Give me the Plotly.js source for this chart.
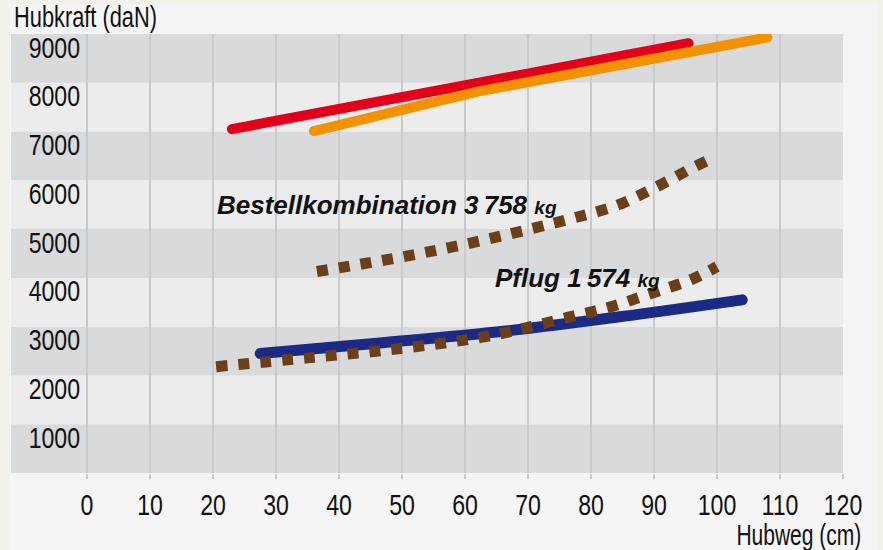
<!DOCTYPE html>
<html>
<head>
<meta charset="utf-8">
<script src="https://cdn.plot.ly/plotly-3.0.1.min.js"></script>
<style>
html,body{margin:0;padding:0;background:#f2f2ea;}
#chart{width:883px;height:550px;}
.scatterlayer .trace:nth-child(-n+3) path.js-line{stroke-linecap:round;}
</style>
</head>
<body>
<div id="chart"></div>
<script>
// Data (Hubweg in cm, Hubkraft in daN)
const redX = [23, 62.4, 95.5];
const redY = [7050, 8010, 8810];

const orangeX = [36, 62, 108];
const orangeY = [7010, 7820, 8930];

const blueX = [27.5, 46, 65, 85, 104];
const blueY = [2450, 2660, 2890, 3210, 3550];

const bestellX = [36.5, 50, 60, 70, 77, 80.5, 84, 87, 90, 93, 96, 99.6];
const bestellY = [4130, 4430, 4690, 4990, 5220, 5340, 5480, 5650, 5840, 6040, 6250, 6470];

const pflugX = [20.5, 35, 49, 63, 69.5, 76, 83, 89.5, 96, 100];
const pflugY = [2180, 2360, 2540, 2790, 2970, 3180, 3400, 3680, 3970, 4230];

const xTicks = [0, 10, 20, 30, 40, 50, 60, 70, 80, 90, 100, 110, 120];
const yTicks = [1000, 2000, 3000, 4000, 5000, 6000, 7000, 8000, 9000];
const bandEdges = [0, 1000, 2000, 3000, 4000, 5000, 6000, 7000, 8000, 9000];

const labelBestell = 'Bestellkombination 3\u2009758';
const labelPflug = 'Pflug 1\u2009574';
const unitKg = 'kg';
const xTitle = 'Hubweg (cm)';
const yTitle = 'Hubkraft (daN)';

const FONT = 'Liberation Sans Narrow, Arial Narrow, Liberation Sans, sans-serif';
const dotDash = '11px,11px';

const traces = [
  {x: redX, y: redY, mode: 'lines', line: {color: '#e2001a', width: 10}},
  {x: orangeX, y: orangeY, mode: 'lines', line: {color: '#f39200', width: 10}},
  {x: blueX, y: blueY, mode: 'lines', line: {color: '#1b2a84', width: 11, shape: 'spline'}},
  {x: bestellX, y: bestellY, mode: 'lines', line: {color: '#6b3f19', width: 11, dash: dotDash, shape: 'spline'}},
  {x: pflugX, y: pflugY, mode: 'lines', line: {color: '#6b3f19', width: 11, dash: dotDash, shape: 'spline'}}
];

const shapes = [
  {type: 'rect', xref: 'paper', yref: 'paper', x0: -0.0012, x1: 1.0409, y0: -0.2, y1: 1.0683,
   fillcolor: '#f5f5f5', line: {width: 0}, layer: 'below'}
];
for (let i = 0; i < bandEdges.length - 1; i++) {
  shapes.push({type: 'rect', xref: 'x', yref: 'y', x0: -12.06, x1: 120,
    y0: bandEdges[i], y1: bandEdges[i + 1],
    fillcolor: (i % 2 === 0) ? '#d9dadc' : '#ebeceb', line: {width: 0}, layer: 'below'});
}

const layout = {
  width: 883, height: 550,
  margin: {l: 11, r: 40, t: 34, b: 77},
  paper_bgcolor: '#f2f2ea',
  plot_bgcolor: 'rgba(0,0,0,0)',
  showlegend: false,
  font: {family: FONT, color: '#111111', size: 30},
  xaxis: {
    range: [-12.06, 120], tickvals: xTicks, ticktext: xTicks.map(String),
    showgrid: true, gridcolor: '#c9cacc', gridwidth: 2,
    zeroline: false, showline: false,
    ticks: 'outside', ticklen: 5, tickwidth: 2, tickcolor: '#c9cacc',
    tickfont: {family: FONT, size: 30, color: '#111111'}
  },
  yaxis: {
    range: [0, 9000], tickvals: yTicks, ticktext: yTicks.map(String),
    anchor: 'free', position: 0.083, side: 'left',
    showgrid: false, zeroline: false, showline: false, ticks: '',
    ticklabelshift: 13,
    tickfont: {family: FONT, size: 30, color: '#111111'}
  },
  shapes: shapes,
  annotations: [
    {xref: 'paper', yref: 'paper', x: 0.0012, y: 1.041, xanchor: 'left', yanchor: 'middle',
     text: yTitle, showarrow: false, font: {family: FONT, size: 30, color: '#111111'}},
    {xref: 'paper', yref: 'paper', x: 1.024, y: -0.1412, xanchor: 'right', yanchor: 'middle',
     text: xTitle, showarrow: false, font: {family: FONT, size: 30, color: '#111111'}},
    {xref: 'x', yref: 'y', x: 20.3, y: 5500, xanchor: 'left', yanchor: 'middle', showarrow: false,
     text: '<b><i>' + labelBestell + ' <span style="font-size:19px">' + unitKg + '</span></i></b>',
     font: {family: FONT, size: 26, color: '#111111'}},
    {xref: 'x', yref: 'y', x: 64.4, y: 4000, xanchor: 'left', yanchor: 'middle', showarrow: false,
     text: '<b><i>' + labelPflug + ' <span style="font-size:19px">' + unitKg + '</span></i></b>',
     font: {family: FONT, size: 26, color: '#111111'}}
  ]
};

// Narrow the regular-weight texts to imitate the condensed face of the original.
function squeeze(textEl, factor, anchor, target) {
  const len = textEl.getComputedTextLength();
  if (!len) return;
  if (anchor) {
    const bb = textEl.getBBox();
    textEl.setAttribute('text-anchor', anchor);
    textEl.style.textAnchor = anchor;
    textEl.setAttribute('x', anchor === 'start' ? bb.x : bb.x + bb.width);
  }
  const newLen = target ? Math.min(target, len) : len * factor;
  textEl.setAttribute('textLength', newLen.toFixed(2));
  textEl.setAttribute('lengthAdjust', 'spacingAndGlyphs');
}

Plotly.newPlot('chart', traces, layout, {displayModeBar: false, staticPlot: true}).then(function (gd) {
  gd.querySelectorAll('.xtick text, .ytick text').forEach(t => squeeze(t, 0.77));
  const a0 = gd.querySelector('.annotation[data-index="0"] text.annotation-text');
  const a1 = gd.querySelector('.annotation[data-index="1"] text.annotation-text');
  if (a0) squeeze(a0, 0.75, 'start', 143);
  if (a1) squeeze(a1, 0.75, 'end', 125);
});
</script>
</body>
</html>
